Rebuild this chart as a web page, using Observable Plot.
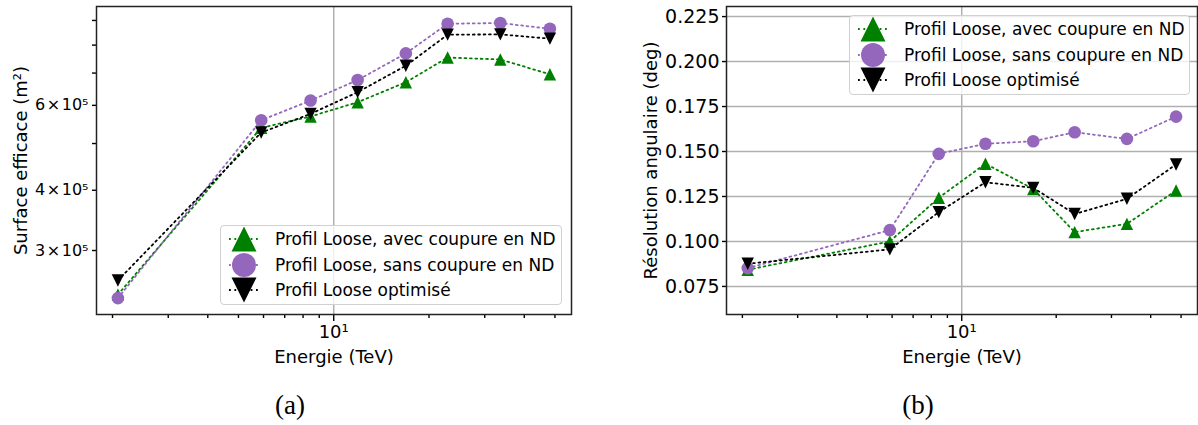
<!DOCTYPE html>
<html><head><meta charset="utf-8">
<script src="https://cdn.jsdelivr.net/npm/d3@7"></script>
<script src="https://cdn.jsdelivr.net/npm/@observablehq/plot@0.6"></script>
<style>
body{margin:0;background:#fff;}
#fig{position:relative;width:1198px;height:425px;font-family:"DejaVu Sans",sans-serif;overflow:hidden;}
.legend{position:absolute;box-sizing:border-box;border:1px solid #d0d0d0;border-radius:4px;background:rgba(255,255,255,0.8);font:17px "DejaVu Sans",sans-serif;color:#000;}
.legend .row{position:absolute;left:0;height:26px;width:100%;}
.legend .row svg{position:absolute;left:0;top:0;}
.legend .row span{position:absolute;left:54px;top:3px;line-height:20px;white-space:nowrap;}
.caption{position:absolute;font:27px "Liberation Serif",serif;line-height:27px;transform:translateX(-50%);color:#000;}
</style></head><body><div id="fig"></div>
<script>
// ---- data ----
const energy = [2.08, 5.9, 8.45, 11.9, 16.9, 22.9, 33.6, 48.2];
const seriesNames = ["Profil Loose, avec coupure en ND", "Profil Loose, sans coupure en ND", "Profil Loose optimisé"];
const areaAvec = [2.43e5, 5.39e5, 5.69e5, 6.09e5, 6.70e5, 7.54e5, 7.47e5, 6.96e5];
const areaSans = [2.39e5, 5.59e5, 6.14e5, 6.77e5, 7.69e5, 8.86e5, 8.89e5, 8.65e5];
const areaOpt  = [2.60e5, 5.27e5, 5.76e5, 6.39e5, 7.25e5, 8.41e5, 8.42e5, 8.25e5];
const resAvec = [0.0843, 0.1000, 0.1243, 0.1432, 0.1292, 0.1052, 0.1098, 0.1283];
const resSans = [0.0852, 0.1063, 0.1487, 0.1543, 0.1557, 0.1607, 0.1570, 0.1694];
const resOpt  = [0.0876, 0.0956, 0.1163, 0.1329, 0.1298, 0.1153, 0.1237, 0.1428];
const xMajorTicks = [10];
const xMinorTicks = [2, 3, 4, 5, 6, 7, 8, 9, 20, 30, 40, 50];
const areaLabelledTicks = [3e5, 4e5, 6e5];
const areaMinorTicks = [5e5, 7e5, 8e5, 9e5];
const resTicks = [0.075, 0.100, 0.125, 0.150, 0.175, 0.200, 0.225];
const captions = ["(a)", "(b)"];

// ---- styles ----
const triUp = {draw(ctx, size){const r = Math.sqrt(size/Math.PI); ctx.moveTo(0,-r); ctx.lineTo(r,r); ctx.lineTo(-r,r); ctx.closePath();}};
const triDown = {draw(ctx, size){const r = Math.sqrt(size/Math.PI); ctx.moveTo(0,r); ctx.lineTo(r,-r); ctx.lineTo(-r,-r); ctx.closePath();}};
const styles = [
  {color:"#008000", symbol:triUp, r:6.2, lr:12.5},
  {color:"#9467bd", symbol:d3.symbolCircle, r:6.3, lr:12},
  {color:"#000000", symbol:triDown, r:6.2, lr:12.5}
];
const dash = "1.8,3.6";
const lw = 1.8;
const font = "DejaVu Sans";

function seriesMarks(list){
  return list.flatMap((vals, k) => {
    const d = energy.map((e, i) => ({e, v: vals[i]}));
    const st = styles[k];
    return [
      Plot.line(d, {x:"e", y:"v", stroke:st.color, strokeWidth:lw, strokeDasharray:dash}),
      Plot.dot(d, {x:"e", y:"v", fill:st.color, symbol:st.symbol, r:st.r})
    ];
  });
}
const xDomain = [1.78, 56.4];
const common = {height:375, marginTop:6, marginBottom:61,
  style:{fontFamily:font, fontSize:"17px", color:"#000", background:"transparent", overflow:"visible"}};
const frameMark = Plot.frame({stroke:"#222", strokeWidth:1.5});
function xAxes(){
  return [
    Plot.axisX(xMinorTicks, {tickSize:4, strokeWidth:1.4, tickFormat:() => "", label:null}),
    Plot.axisX(xMajorTicks, {tickSize:7, strokeWidth:1.4, tickPadding:4, fontSize:18, tickFormat:() => "10¹", label:null}),
    Plot.text(["Energie (TeV)"], {text:d => d, frameAnchor:"bottom", dy:48, lineAnchor:"bottom", fontSize:18})
  ];
}

const left = Plot.plot({
  ...common, width:600, marginLeft:96, marginRight:29,
  x:{type:"log", domain:xDomain},
  y:{type:"log", domain:[2.21e5, 9.62e5]},
  marks:[
    Plot.gridX(xMajorTicks, {stroke:"#b0b0b0", strokeOpacity:1, strokeWidth:1.5}),
    ...xAxes(),
    Plot.axisY(areaMinorTicks, {tickSize:4, strokeWidth:1.4, tickFormat:() => "", label:null}),
    Plot.axisY(areaLabelledTicks, {tickSize:4, strokeWidth:1.4, tickPadding:4, fontSize:16, tickFormat:d => `${Math.round(d/1e5)}\u200a×\u200a10⁵`, label:null}),
    Plot.text(["Surface efficace (m²)"], {text:d => d, frameAnchor:"left", rotate:-90, dx:-82, lineAnchor:"top", textAnchor:"middle", fontSize:18}),
    ...seriesMarks([areaAvec, areaSans, areaOpt]),
    frameMark
  ]
});

const right = Plot.plot({
  ...common, width:598, marginLeft:126, marginRight:1,
  x:{type:"log", domain:xDomain},
  y:{domain:[0.0594, 0.2306]},
  marks:[
    Plot.gridY(resTicks, {stroke:"#b0b0b0", strokeOpacity:1, strokeWidth:1.5}),
    Plot.gridX(xMajorTicks, {stroke:"#b0b0b0", strokeOpacity:1, strokeWidth:1.5}),
    ...xAxes(),
    Plot.axisY(resTicks, {tickSize:4, strokeWidth:1.4, tickPadding:3, fontSize:19, tickFormat:d3.format(".3f"), label:null}),
    Plot.text(["Résolution angulaire (deg)"], {text:d => d, frameAnchor:"left", rotate:-90, dx:-82, lineAnchor:"top", textAnchor:"middle", fontSize:18}),
    ...seriesMarks([resAvec, resSans, resOpt]),
    frameMark
  ]
});

const fig = document.getElementById("fig");
function place(el, x){ el.style.position = "absolute"; el.style.left = x + "px"; el.style.top = "0px"; fig.appendChild(el); }
place(left, 0);
place(right, 600);

function addLegend(x, y, w){
  const box = document.createElement("div");
  box.className = "legend";
  Object.assign(box.style, {left:x + "px", top:y + "px", width:w + "px", height:"80px"});
  seriesNames.forEach((name, i) => {
    const st = styles[i];
    const row = document.createElement("div");
    row.className = "row";
    row.style.top = (25.5*i) + "px";
    const svg = d3.create("svg").attr("width", 50).attr("height", 26).style("overflow","visible");
    svg.append("line").attr("x1", 8).attr("x2", 38).attr("y1", 13).attr("y2", 13)
      .attr("stroke", st.color).attr("stroke-width", lw).attr("stroke-dasharray", dash);
    svg.append("path").attr("d", d3.symbol(st.symbol, Math.PI*st.lr*st.lr)())
      .attr("transform", "translate(23,13)").attr("fill", st.color);
    row.appendChild(svg.node());
    const span = document.createElement("span");
    span.textContent = name;
    row.appendChild(span);
    box.appendChild(row);
  });
  fig.appendChild(box);
}
addLegend(220, 225, 342);
addLegend(849, 15, 341);

[[290, captions[0]], [918, captions[1]]].forEach(([cx, t]) => {
  const c = document.createElement("div");
  c.className = "caption";
  c.style.left = cx + "px";
  c.style.top = "392px";
  c.textContent = t;
  fig.appendChild(c);
});
</script></body></html>
